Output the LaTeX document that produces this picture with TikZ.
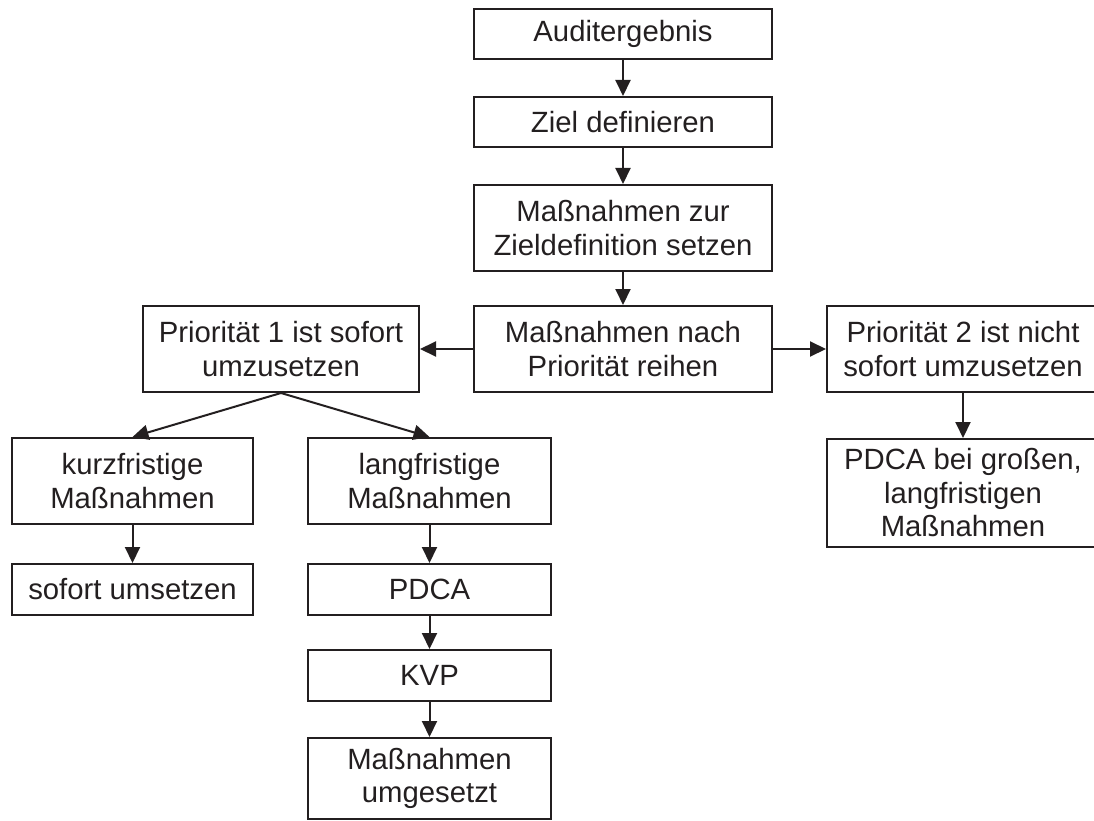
\documentclass[tikz,border=0pt]{standalone}
\usepackage{fontspec}
\setmainfont{Liberation Sans}
\usetikzlibrary{arrows.meta}
\definecolor{ink}{HTML}{231F20}
\begin{document}
\begin{tikzpicture}[x=1pt,y=-1pt,
  box/.style={draw=ink, line width=2pt, inner sep=0pt, align=center,
    text=ink, font=\fontsize{29.3}{33.5}\selectfont},
  arr/.style={draw=ink, line width=2pt,
    -{Triangle[length=16pt,width=15pt]}}]
\useasboundingbox (0,0) rectangle (1094,821);
% main column
\node[box, minimum width=298pt, minimum height=50pt] (audit) at (623,34) {Auditergebnis};
\node[box, minimum width=298pt, minimum height=50pt] (ziel) at (623,122) {Ziel definieren};
\node[box, minimum width=298pt, minimum height=86pt] (zur) at (623,228) {Maßnahmen zur\\Zieldefinition setzen};
\node[box, minimum width=298pt, minimum height=86pt] (nach) at (623,349) {Maßnahmen nach\\Priorität reihen};
% priorities
\node[box, minimum width=276pt, minimum height=86pt] (p1) at (281,349) {Priorität 1 ist sofort\\umzusetzen};
\node[box, minimum width=272pt, minimum height=86pt] (p2) at (963,349) {Priorität 2 ist nicht\\sofort umzusetzen};
% priority 1 branch
\node[box, minimum width=241pt, minimum height=86pt] (kurz) at (132.5,481) {kurzfristige\\Maßnahmen};
\node[box, minimum width=243pt, minimum height=86pt] (lang) at (429.5,481) {langfristige\\Maßnahmen};
\node[box, minimum width=241pt, minimum height=51pt] (sofort) at (132.5,589.5) {sofort umsetzen};
\node[box, minimum width=243pt, minimum height=51pt] (pdca) at (429.5,589.5) {PDCA};
\node[box, minimum width=243pt, minimum height=51pt] (kvp) at (429.5,675.5) {KVP};
\node[box, minimum width=243pt, minimum height=81pt] (umg) at (429.5,778.5) {Maßnahmen\\umgesetzt};
% priority 2 branch
\node[box, minimum width=272pt, minimum height=108pt] (gross) at (963,493) {PDCA bei großen,\\langfristigen\\Maßnahmen};
% connectors
\draw[arr] (audit) -- (ziel);
\draw[arr] (ziel) -- (zur);
\draw[arr] (zur) -- (nach);
\draw[arr] (nach.west) -- (p1.east);
\draw[arr] (nach.east) -- (p2.west);
\draw[arr] (p1.south) -- (kurz.north);
\draw[arr] (p1.south) -- (lang.north);
\draw[arr] (kurz) -- (sofort);
\draw[arr] (lang) -- (pdca);
\draw[arr] (pdca) -- (kvp);
\draw[arr] (kvp) -- (umg);
\draw[arr] (p2) -- (gross);
\end{tikzpicture}
\end{document}
